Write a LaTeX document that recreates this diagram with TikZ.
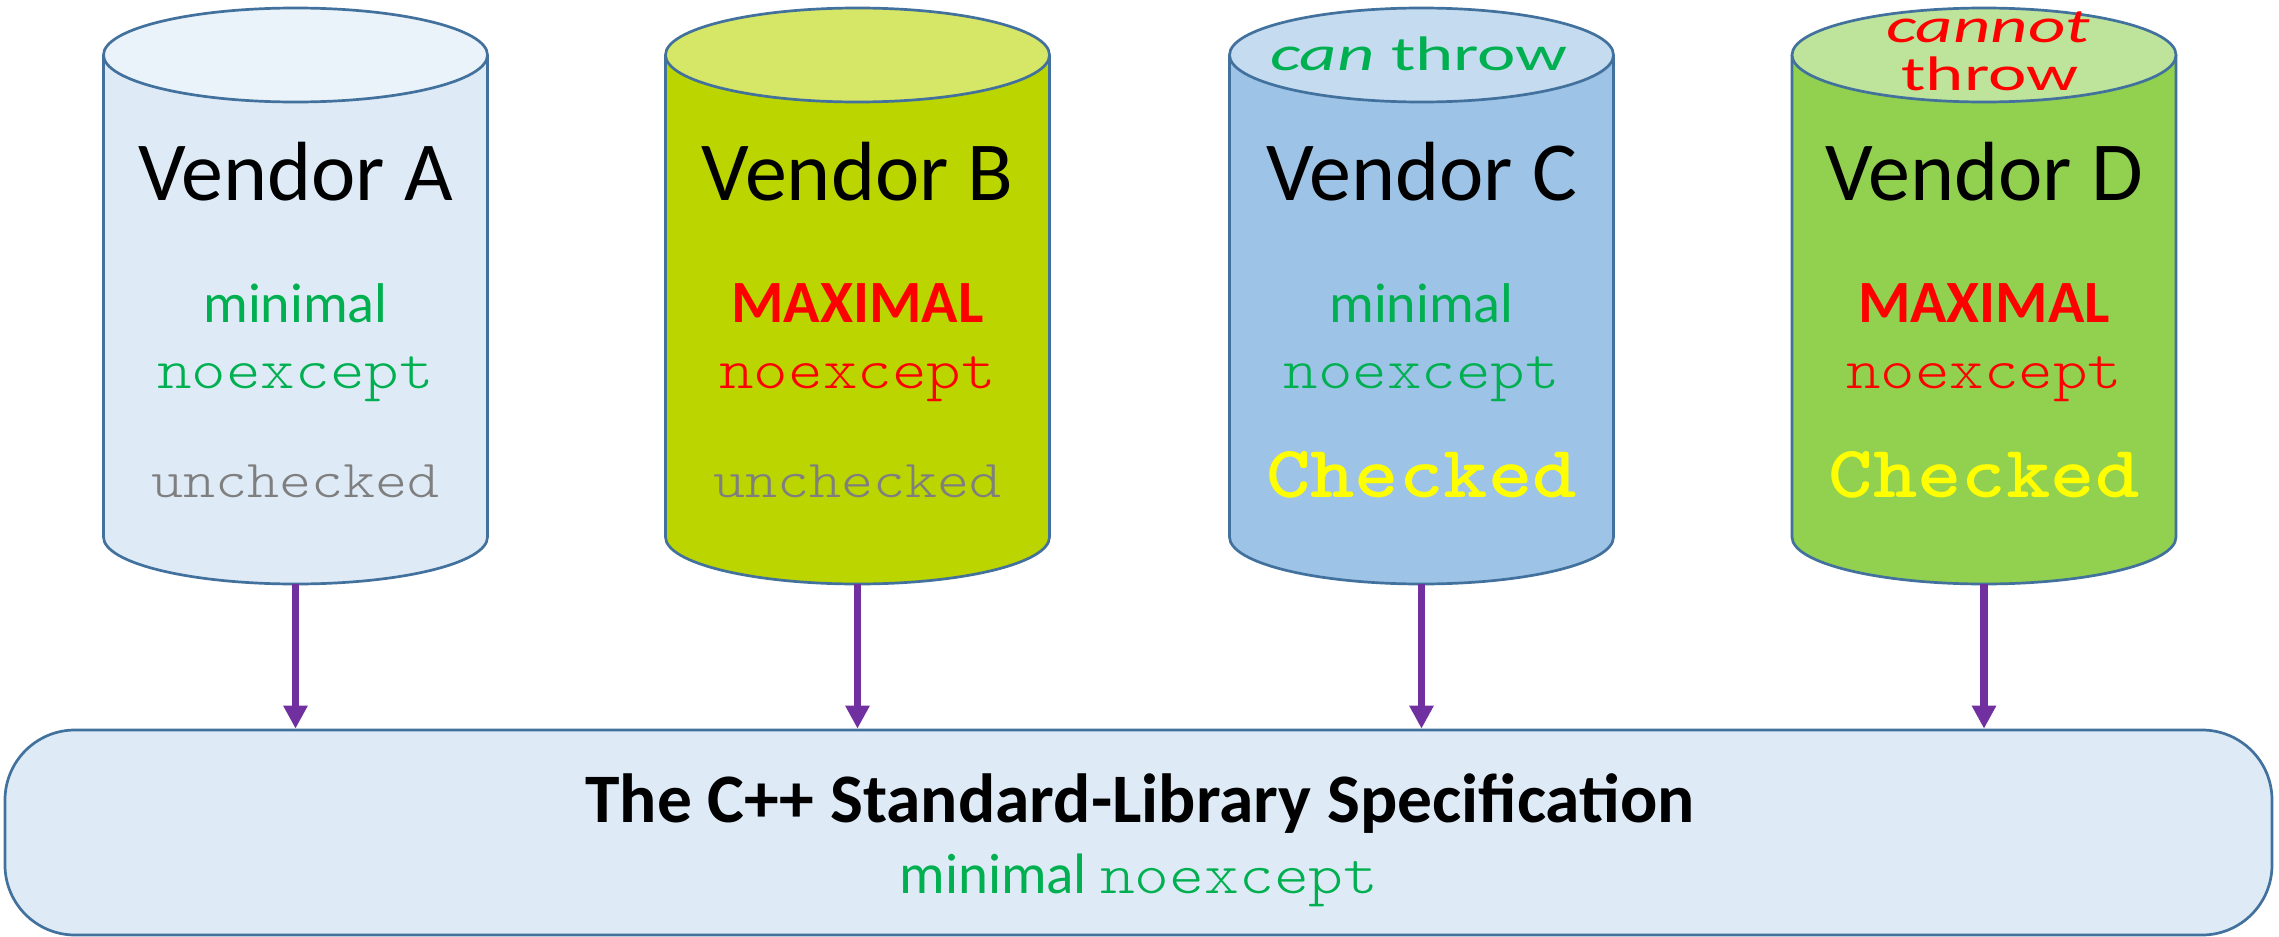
\documentclass[tikz,border=0pt]{standalone}
\usepackage{fontspec}
\setmainfont{Carlito}
\newfontfamily\courlike[BoldFont=lmmonolt10-bold.otf]{lmmonolt10-regular.otf}
\usetikzlibrary{arrows.meta}

\definecolor{edge}{HTML}{41719C}
\definecolor{bodyA}{HTML}{DEEBF7}
\definecolor{topA}{HTML}{EAF2FA}
\definecolor{bodyB}{HTML}{BAD500}
\definecolor{topB}{HTML}{D6E667}
\definecolor{bodyC}{HTML}{9DC3E6}
\definecolor{topC}{HTML}{C5DBF0}
\definecolor{bodyD}{HTML}{92D050}
\definecolor{topD}{HTML}{BEE39A}
\definecolor{specfill}{HTML}{DEEBF7}
\definecolor{flowcol}{HTML}{7030A0}
\definecolor{okgreen}{HTML}{00B050}
\definecolor{badred}{HTML}{FF0000}
\definecolor{chkyellow}{HTML}{FFFF00}
\definecolor{dimgray}{HTML}{7F7F7F}

% font size helper
\newcommand\fs[1]{\fontsize{#1}{#1}\selectfont}
% typewriter text widened to Courier-like advance
\newcommand\mtext[2]{\scalebox{1.143}[1]{\fs{#1}\courlike #2}}
% wide sans text
\newcommand\wtext[2]{\scalebox{1.5}[1]{\fs{#1}#2}}

% vendor cylinder: #1 node name, #2 centre x, #3 body colour, #4 top colour
\newcommand\vendorcyl[4]{%
  \fill[#3] (#2-192,55) -- (#2-192,537)
    arc[start angle=180,end angle=360,x radius=192pt,y radius=47pt]
    -- (#2+192,55)
    arc[start angle=0,end angle=180,x radius=192pt,y radius=47pt] -- cycle;
  \draw[cylline] (#2-192,55) -- (#2-192,537)
    arc[start angle=180,end angle=360,x radius=192pt,y radius=47pt]
    -- (#2+192,55);
  \draw[cylline,fill=#4] (#2,55) ellipse[x radius=192pt,y radius=47pt];
  \node[inner sep=0pt,minimum width=384pt,minimum height=576pt] (#1) at (#2,296) {};
}

\begin{document}
\begin{tikzpicture}[x=1pt,y=-1pt,
  cylline/.style={draw=edge,line width=2.7pt},
  lbl/.style={anchor=base,inner sep=0pt},
  flow/.style={draw=flowcol,line width=7.3pt,-{Triangle[width=23pt,length=23pt]}}]
\useasboundingbox (0,0) rectangle (2279,937);

% the four vendor implementations
\vendorcyl{cylA}{295.5}{bodyA}{topA}
\vendorcyl{cylB}{857.5}{bodyB}{topB}
\vendorcyl{cylC}{1421.5}{bodyC}{topC}
\vendorcyl{cylD}{1984}{bodyD}{topD}

% the specification
\node[draw=edge,fill=specfill,line width=2.7pt,rounded corners=70pt,
      minimum width=2267pt,minimum height=205pt,inner sep=0pt]
      (spec) at (1138.5,832.5) {};
\node[lbl] (specTitle) at (1140,822) {\fs{69.5}\bfseries The C++ Standard-Library Specification};
\node[lbl] (specSub) at (1139,893) {\color{okgreen}\fs{57}minimal \mtext{58}{noexcept}};

% Vendor A
\node[lbl] (nameA) at (295.5,200) {\fs{84}Vendor A};
\node[lbl,text=okgreen] (contA) at (295.5,322) {\fs{56}minimal};
\node[lbl,text=okgreen] (nxA) at (295.5,388) {\mtext{57.5}{noexcept}};
\node[lbl,text=dimgray] (chkA) at (295.5,497) {\mtext{53.4}{unchecked}};

% Vendor B
\node[lbl] (nameB) at (857.5,200) {\fs{84}Vendor B};
\node[lbl,text=badred] (contB) at (857.5,322) {\fs{60}\bfseries MAXIMAL};
\node[lbl,text=badred] (nxB) at (857.5,388) {\mtext{57.5}{noexcept}};
\node[lbl,text=dimgray] (chkB) at (857.5,497) {\mtext{53.4}{unchecked}};

% Vendor C
\node[lbl,text=okgreen] (topTextC) at (1419,70) {\wtext{48.5}{\itshape can\upshape\ throw}};
\node[lbl] (nameC) at (1421.5,200) {\fs{84}Vendor C};
\node[lbl,text=okgreen] (contC) at (1421.5,322) {\fs{56}minimal};
\node[lbl,text=okgreen] (nxC) at (1421.5,388) {\mtext{57.5}{noexcept}};
\node[lbl,text=chkyellow] (chkC) at (1421.5,497) {\mtext{74}{\bfseries Checked}};

% Vendor D
\node[lbl,text=badred] (topTextD1) at (1988,42) {\wtext{48.5}{\itshape cannot}};
\node[lbl,text=badred] (topTextD2) at (1990,90) {\wtext{48.5}{throw}};
\node[lbl] (nameD) at (1984,200) {\fs{84}Vendor D};
\node[lbl,text=badred] (contD) at (1984,322) {\fs{60}\bfseries MAXIMAL};
\node[lbl,text=badred] (nxD) at (1984,388) {\mtext{57.5}{noexcept}};
\node[lbl,text=chkyellow] (chkD) at (1984,497) {\mtext{74}{\bfseries Checked}};

% each vendor implements the specification
\foreach \c in {cylA,cylB,cylC,cylD}
  \draw[flow] (\c.south) -- (\c.south |- spec.north);
\end{tikzpicture}
\end{document}
